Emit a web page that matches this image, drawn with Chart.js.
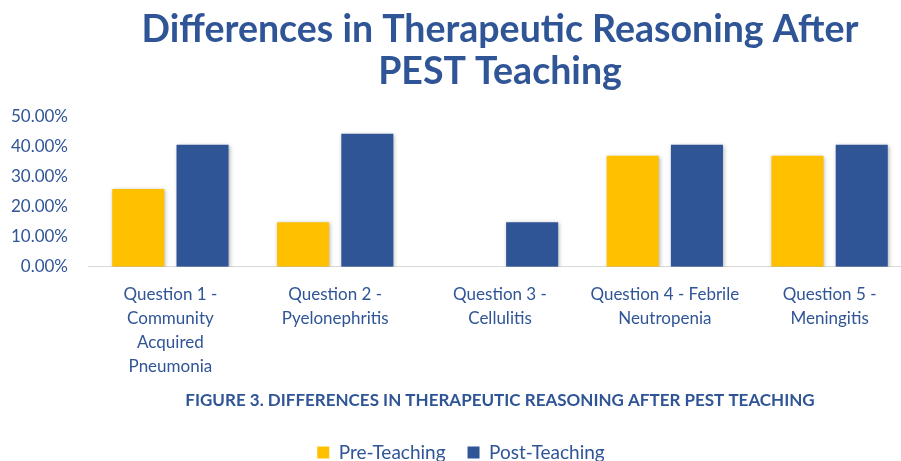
<!DOCTYPE html>
<html>
<head>
<meta charset="utf-8">
<script src="https://cdn.jsdelivr.net/npm/chart.js@4.4.0/dist/chart.umd.min.js"></script>
<style>
  html, body { margin: 0; padding: 0; background: #fff; overflow: hidden; }
  #wrap { width: 920px; height: 472px; }
</style>
</head>
<body>
<div id="wrap"><canvas id="chart"></canvas></div>
<script>
const categories = [
  ['Question 1 -', 'Community', 'Acquired', 'Pneumonia'],
  ['Question 2 -', 'Pyelonephritis'],
  ['Question 3 -', 'Cellulitis'],
  ['Question 4 - Febrile', 'Neutropenia'],
  ['Question 5 -', 'Meningitis']
];
const preTeaching = [25.93, 14.81, 0, 37.04, 37.04];
const postTeaching = [40.74, 44.44, 14.81, 40.74, 40.74];
const yTicks = [0, 10, 20, 30, 40, 50];

const blue = '#2F5597';
const gold = '#FFC000';

// soft drop shadow under the bars, like the Excel original
const barShadow = {
  id: 'barShadow',
  beforeDatasetDraw(chart) {
    const ctx = chart.ctx;
    ctx.save();
    ctx.shadowColor = 'rgba(0, 0, 0, 0.3)';
    ctx.shadowBlur = 4;
    ctx.shadowOffsetX = 1;
    ctx.shadowOffsetY = 1;
  },
  afterDatasetDraw(chart) {
    chart.ctx.restore();
  }
};

new Chart(document.getElementById('chart'), {
  type: 'bar',
  data: {
    labels: categories,
    datasets: [{
      label: 'Pre-Teaching',
      data: preTeaching,
      backgroundColor: gold,
      barPercentage: 0.81,
      categoryPercentage: 0.78
    }, {
      label: 'Post-Teaching',
      data: postTeaching,
      backgroundColor: blue,
      barPercentage: 0.81,
      categoryPercentage: 0.78
    }]
  },
  options: {
    responsive: true,
    maintainAspectRatio: false,
    animation: false,
    layout: { padding: { left: 10, right: 8, top: 0, bottom: 0 } },
    plugins: {
      tooltip: { enabled: false },
      title: {
        display: true,
        fullSize: false,
        text: ['Differences in Therapeutic Reasoning After', 'PEST Teaching'],
        color: blue,
        font: { family: 'Lato', size: 37.5, weight: 'bold', lineHeight: 1.12 },
        padding: { top: 9, bottom: 24 }
      },
      subtitle: {
        display: true,
        position: 'bottom',
        fullSize: false,
        weight: 500,
        text: 'FIGURE 3. DIFFERENCES IN THERAPEUTIC REASONING AFTER PEST TEACHING',
        color: blue,
        font: { family: 'Lato', size: 17, weight: 'bold' },
        padding: { top: 4, bottom: 10 }
      },
      legend: {
        position: 'bottom',
        weight: 1000,
        labels: {
          color: blue,
          font: { family: 'Lato', size: 19 },
          boxWidth: 12,
          boxHeight: 12,
          padding: 22
        }
      }
    },
    scales: {
      x: {
        grid: { display: false },
        border: { display: true, color: '#D9D9D9', width: 1 },
        ticks: {
          color: blue,
          font: { family: 'Lato', size: 17, lineHeight: 1.41 },
          maxRotation: 0,
          autoSkip: false,
          padding: 8
        },
        afterFit(axis) {
          // labels fit inside their category, no side padding needed
          axis.paddingLeft = 0;
          axis.paddingRight = 0;
        }
      },
      y: {
        min: yTicks[0],
        max: yTicks[yTicks.length - 1],
        grid: { display: false, drawTicks: false },
        border: { display: false },
        afterBuildTicks(axis) {
          axis.ticks = yTicks.map(v => ({ value: v }));
        },
        afterFit(axis) {
          axis.width = 78;
        },
        ticks: {
          color: blue,
          font: { family: 'Lato', size: 17 },
          padding: 20,
          callback: v => v.toFixed(2) + '%'
        }
      }
    }
  },
  plugins: [barShadow]
});
</script>
</body>
</html>
